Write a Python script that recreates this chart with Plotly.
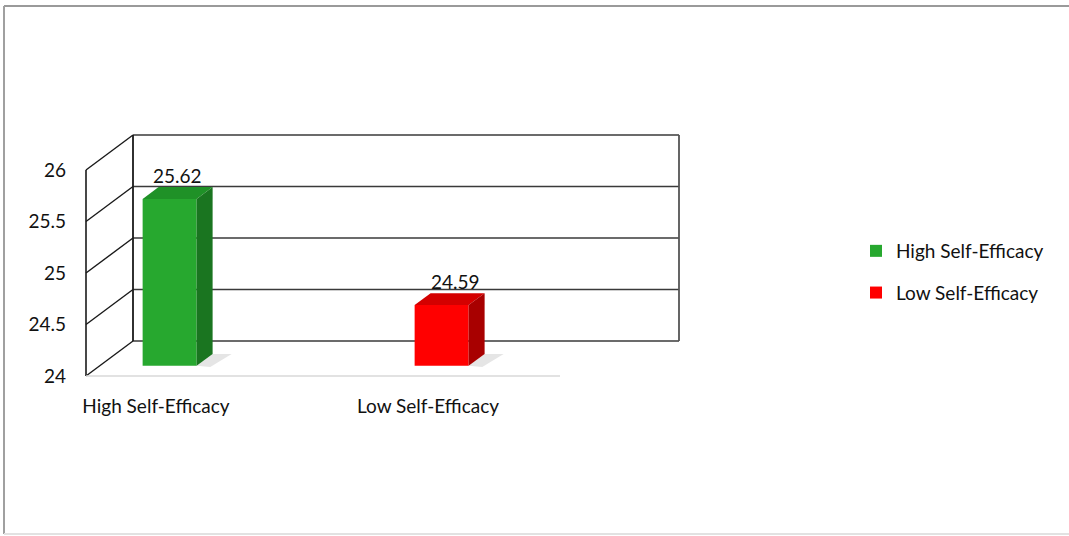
import plotly.graph_objects as go

# ---------------- data ----------------
categories = ["High Self-Efficacy", "Low Self-Efficacy"]
values = [25.62, 24.59]
value_labels = ["25.62", "24.59"]
tick_values = [24, 24.5, 25, 25.5, 26]
tick_text = ["24", "24.5", "25", "25.5", "26"]
front_colors = ["#27a82f", "#ff0000"]
top_colors = ["#1f9127", "#d40000"]
side_colors = ["#1a7520", "#a80000"]

# ---------------- layout constants ----------------
W, H = 1069, 536
L, R, T, B = 75, 0, 5, 151
PX_PER_X = 272.0      # pixels per category unit
CAT0_PX = 156.0       # pixel of first category (front plane)
PX_PER_V = 103.0      # pixels per value unit
V0 = 24.0             # axis minimum value
V0_PY = 376.0         # pixel of axis minimum

x_range = [(L - CAT0_PX) / PX_PER_X, (W - R - CAT0_PX) / PX_PER_X]
y_range = [V0 - (H - B - V0_PY) / PX_PER_V, V0 + (V0_PY - T) / PX_PER_V]

# 3-D projection (depth 0 = front, 1 = back wall)
DXU = 47.0 / PX_PER_X
DYV = 35.0 / PX_PER_V
D_FRONT = 0.29
D_DEPTH = 0.34
BAR_W = 54.0 / PX_PER_X
X_LEFT = (86 - CAT0_PX) / PX_PER_X
X_RIGHT = (632 - CAT0_PX) / PX_PER_X
X_FLOOR_END = (560 - CAT0_PX) / PX_PER_X

FONT = "Lato, 'Open Sans', sans-serif"
TXT = "#111111"
FS = 19


def pxx(px):
    return (px - L) / (W - L - R)


def pyy(py):
    return (H - B - py) / (H - T - B)


fig = go.Figure()
shapes = []

# back wall gridlines + side-wall diagonals
vmin, vmax = tick_values[0], tick_values[-1]
for v in tick_values:
    shapes.append(dict(type="line", xref="x", yref="y", layer="below",
                       x0=X_LEFT + DXU, x1=X_RIGHT + DXU, y0=v + DYV, y1=v + DYV,
                       line=dict(color="#3a3a3a", width=1.6)))
    shapes.append(dict(type="line", xref="x", yref="y", layer="below",
                       x0=X_LEFT, x1=X_LEFT + DXU, y0=v, y1=v + DYV,
                       line=dict(color="#1a1a1a", width=1.4)))
# back wall verticals
for xx, col in [(X_LEFT + DXU, "#1a1a1a"), (X_RIGHT + DXU, "#555555")]:
    shapes.append(dict(type="line", xref="x", yref="y", layer="below",
                       x0=xx, x1=xx, y0=vmin + DYV, y1=vmax + DYV,
                       line=dict(color=col, width=1.8)))
# front axis line
shapes.append(dict(type="line", xref="x", yref="y", layer="below",
                   x0=X_LEFT, x1=X_LEFT, y0=vmin, y1=vmax,
                   line=dict(color="#1a1a1a", width=1.6)))
# floor front edge
shapes.append(dict(type="line", xref="x", yref="y", layer="below",
                   x0=X_LEFT, x1=X_FLOOR_END, y0=vmin, y1=vmin,
                   line=dict(color="#d9d9d9", width=1.5)))

# outer border
shapes.append(dict(type="line", xref="paper", yref="paper",
                   x0=pxx(4), x1=pxx(1075), y0=pyy(6), y1=pyy(6),
                   line=dict(color="#9a9a9a", width=2)))
shapes.append(dict(type="line", xref="paper", yref="paper",
                   x0=pxx(4), x1=pxx(4), y0=pyy(6), y1=pyy(534),
                   line=dict(color="#a0a0a0", width=2)))
shapes.append(dict(type="line", xref="paper", yref="paper",
                   x0=pxx(4), x1=pxx(1075), y0=pyy(534), y1=pyy(534),
                   line=dict(color="#e2e2e2", width=2)))

annotations = []
label_dx = [0, 6]
for i, (cat, v) in enumerate(zip(categories, values)):
    xl = i + D_FRONT * DXU - BAR_W / 2
    xr = i + D_FRONT * DXU + BAR_W / 2
    base = vmin + D_FRONT * DYV
    top = v + D_FRONT * DYV
    ddx, ddy = D_DEPTH * DXU, D_DEPTH * DYV
    # shadow
    fig.add_trace(go.Scatter(
        x=[xr, xr + ddx, xr + ddx + 0.07, xr + 0.05, xr],
        y=[base, base + ddy, base + ddy, base - 0.01, base],
        fill="toself", fillcolor="rgba(150,150,150,0.25)", mode="none",
        showlegend=False, hoverinfo="skip"))
    # front face
    fig.add_trace(go.Bar(
        x=[i + D_FRONT * DXU], y=[v - vmin], base=[base], width=BAR_W,
        marker=dict(color=front_colors[i], line=dict(width=0)),
        name=cat, legendgroup=cat, showlegend=True, hoverinfo="skip"))
    # top face
    fig.add_trace(go.Scatter(
        x=[xl, xr, xr + ddx, xl + ddx, xl],
        y=[top, top, top + ddy, top + ddy, top],
        fill="toself", fillcolor=top_colors[i], mode="none",
        showlegend=False, hoverinfo="skip"))
    # side face
    fig.add_trace(go.Scatter(
        x=[xr, xr + ddx, xr + ddx, xr, xr],
        y=[base, base + ddy, top + ddy, top, base],
        fill="toself", fillcolor=side_colors[i], mode="none",
        showlegend=False, hoverinfo="skip"))
    # value label
    annotations.append(dict(
        x=i + (D_FRONT + D_DEPTH / 2) * DXU, y=top + ddy / 2, xref="x", yref="y",
        text=value_labels[i], showarrow=False, yanchor="bottom", yshift=4,
        xshift=label_dx[i],
        font=dict(family=FONT, size=FS, color=TXT)))

fig.update_layout(
    width=W, height=H,
    margin=dict(l=L, r=R, t=T, b=B),
    paper_bgcolor="white", plot_bgcolor="white",
    barmode="overlay",
    shapes=shapes, annotations=annotations,
    font=dict(family=FONT, size=FS, color=TXT),
    xaxis=dict(range=x_range, showgrid=False, zeroline=False, showline=False,
               tickmode="array", tickvals=list(range(len(categories))),
               ticktext=categories, ticks="", ticklabelstandoff=8,
               tickfont=dict(family=FONT, size=FS, color=TXT)),
    yaxis=dict(range=y_range, showgrid=False, zeroline=False, showline=False,
               tickmode="array", tickvals=tick_values, ticktext=tick_text,
               ticks="", ticklabelstandoff=8,
               tickfont=dict(family=FONT, size=FS, color=TXT)),
    legend=dict(x=pxx(856), y=pyy(232), xanchor="left", yanchor="top",
                tracegroupgap=14, bgcolor="rgba(0,0,0,0)",
                font=dict(family=FONT, size=FS, color=TXT)),
    showlegend=True,
)

fig.write_html("out.html")
